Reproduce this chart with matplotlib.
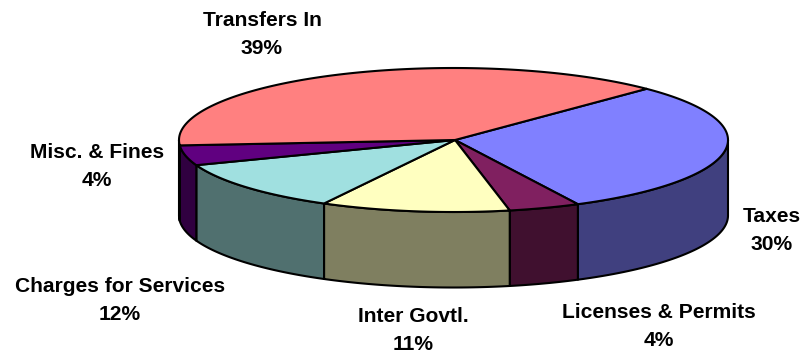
import numpy as np
import matplotlib
matplotlib.use('Agg')
import matplotlib.pyplot as plt

labels = ['Taxes', 'Licenses & Permits', 'Inter Govtl.', 'Charges for Services',
          'Misc. & Fines', 'Transfers In']
shares = [30.1, 4.2, 11.1, 11.5, 4.49, 38.61]
top_colors = ['#8080ff', '#802060', '#ffffc0', '#a0e0e0', '#600080', '#ff8080']
side_colors = ['#40407f', '#40102f', '#7f7f60', '#50706f', '#300040', '#7f4040']
label_pos = [(772, 230), (659, 326), (413, 331), (120, 301), (97, 166), (262, 35)]

# pie geometry in pixels
cx, cy = 453.5, 140
apex_x = 455
rx, ry = 274.5, 72
depth = 75.5
start = 45.3

W, H = 808, 353
fig = plt.figure(figsize=(W / 100, H / 100), dpi=100)
ax = fig.add_axes([0, 0, 1, 1])
ax.set_xlim(0, W)
ax.set_ylim(H, 0)
ax.axis('off')


def rim(a, b, dy=0):
    t = np.radians(np.linspace(a, b, 200))
    return cx + rx * np.cos(t), cy - ry * np.sin(t) + dy


# angles run clockwise from the start angle
edges = start - np.cumsum([0] + shares) * 3.6

# side walls, only the front half of the rim is visible
for i in range(len(shares)):
    a, b = edges[i], edges[i + 1]
    a2, b2 = min(a, 0), max(b, -180)
    if a2 <= b2:
        continue
    x1, y1 = rim(a2, b2)
    x2, y2 = rim(b2, a2, depth)
    ax.fill(np.r_[x1, x2], np.r_[y1, y2], facecolor=side_colors[i],
            edgecolor='black', lw=1.5, joinstyle='round', zorder=2)

# top face
for i in range(len(shares)):
    x, y = rim(edges[i], edges[i + 1])
    ax.fill(np.r_[apex_x, x], np.r_[cy, y], facecolor=top_colors[i],
            edgecolor='black', lw=1.5, joinstyle='round', zorder=3)

for lab, val, (tx, ty) in zip(labels, shares, label_pos):
    ax.text(tx, ty, f'{lab}\n{val:.0f}%', ha='center', va='center', fontsize=15.1,
            fontweight='bold', family='Liberation Sans', linespacing=1.6)

fig.savefig('out.png', dpi=100)
